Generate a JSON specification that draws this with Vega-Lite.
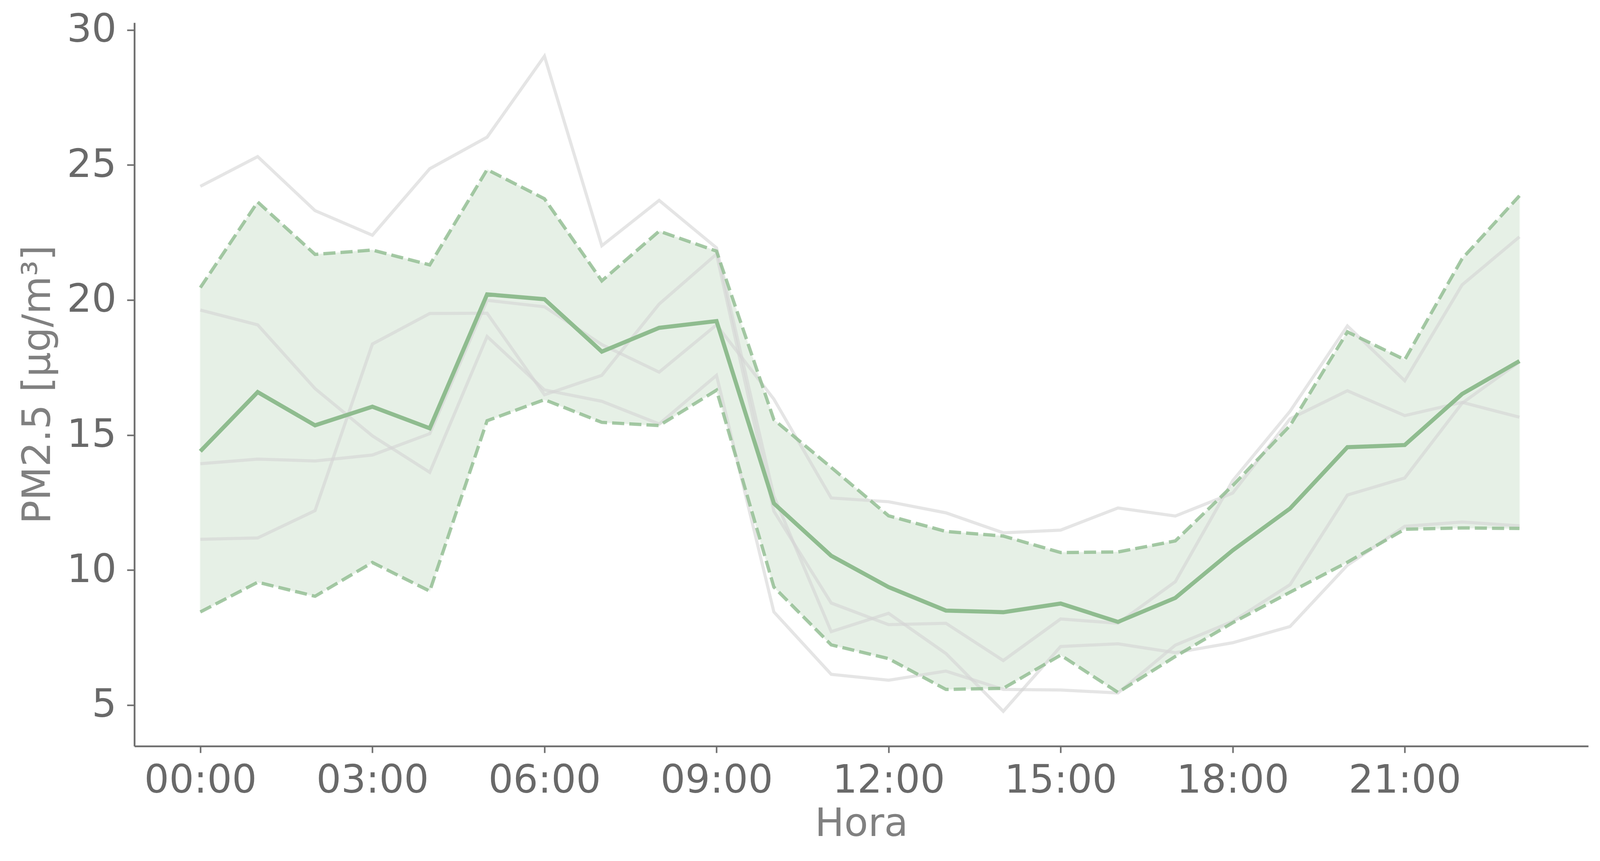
{
  "$schema": "https://vega.github.io/schema/vega-lite/v6.json",
  "autosize": {"type": "none"},
  "padding": {"left": 344, "top": 58, "right": 37, "bottom": 294},
  "width": 3722,
  "height": 1852,
  "background": "white",
  "datasets": {
    "banda": [
      {"hora": 0, "media": 14.40, "sup": 20.46, "inf": 8.45},
      {"hora": 1, "media": 16.59, "sup": 23.63, "inf": 9.55},
      {"hora": 2, "media": 15.36, "sup": 21.69, "inf": 9.03},
      {"hora": 3, "media": 16.05, "sup": 21.85, "inf": 10.28},
      {"hora": 4, "media": 15.25, "sup": 21.30, "inf": 9.22},
      {"hora": 5, "media": 20.21, "sup": 24.83, "inf": 15.53},
      {"hora": 6, "media": 20.03, "sup": 23.75, "inf": 16.31},
      {"hora": 7, "media": 18.09, "sup": 20.71, "inf": 15.47},
      {"hora": 8, "media": 18.97, "sup": 22.55, "inf": 15.35},
      {"hora": 9, "media": 19.22, "sup": 21.81, "inf": 16.66},
      {"hora": 10, "media": 12.47, "sup": 15.57, "inf": 9.37},
      {"hora": 11, "media": 10.53, "sup": 13.80, "inf": 7.23},
      {"hora": 12, "media": 9.37, "sup": 12.01, "inf": 6.72},
      {"hora": 13, "media": 8.50, "sup": 11.43, "inf": 5.58},
      {"hora": 14, "media": 8.44, "sup": 11.26, "inf": 5.62},
      {"hora": 15, "media": 8.76, "sup": 10.65, "inf": 6.85},
      {"hora": 16, "media": 8.08, "sup": 10.67, "inf": 5.47},
      {"hora": 17, "media": 8.97, "sup": 11.08, "inf": 6.80},
      {"hora": 18, "media": 10.73, "sup": 13.13, "inf": 8.05},
      {"hora": 19, "media": 12.28, "sup": 15.35, "inf": 9.18},
      {"hora": 20, "media": 14.55, "sup": 18.82, "inf": 10.29},
      {"hora": 21, "media": 14.63, "sup": 17.79, "inf": 11.51},
      {"hora": 22, "media": 16.52, "sup": 21.53, "inf": 11.56},
      {"hora": 23, "media": 17.74, "sup": 23.86, "inf": 11.54}
    ],
    "series": [
      {"serie": "A", "hora": 0, "pm": 24.21}, {"serie": "A", "hora": 1, "pm": 25.31},
      {"serie": "A", "hora": 2, "pm": 23.31}, {"serie": "A", "hora": 3, "pm": 22.40},
      {"serie": "A", "hora": 4, "pm": 24.86}, {"serie": "A", "hora": 5, "pm": 26.03},
      {"serie": "A", "hora": 6, "pm": 29.03}, {"serie": "A", "hora": 7, "pm": 22.01},
      {"serie": "A", "hora": 8, "pm": 23.69}, {"serie": "A", "hora": 9, "pm": 21.93},
      {"serie": "A", "hora": 10, "pm": 12.74}, {"serie": "A", "hora": 11, "pm": 7.72},
      {"serie": "A", "hora": 12, "pm": 8.40}, {"serie": "A", "hora": 13, "pm": 6.91},
      {"serie": "A", "hora": 14, "pm": 4.77}, {"serie": "A", "hora": 15, "pm": 7.17},
      {"serie": "A", "hora": 16, "pm": 7.27}, {"serie": "A", "hora": 17, "pm": 6.94},
      {"serie": "A", "hora": 18, "pm": 7.31}, {"serie": "A", "hora": 19, "pm": 7.91},
      {"serie": "A", "hora": 20, "pm": 10.18}, {"serie": "A", "hora": 21, "pm": 11.62},
      {"serie": "A", "hora": 22, "pm": 11.78}, {"serie": "A", "hora": 23, "pm": 11.64},
      {"serie": "B", "hora": 0, "pm": 19.63}, {"serie": "B", "hora": 1, "pm": 19.08},
      {"serie": "B", "hora": 2, "pm": 16.72}, {"serie": "B", "hora": 3, "pm": 14.97},
      {"serie": "B", "hora": 4, "pm": 13.62}, {"serie": "B", "hora": 5, "pm": 18.65},
      {"serie": "B", "hora": 6, "pm": 16.67}, {"serie": "B", "hora": 7, "pm": 16.25},
      {"serie": "B", "hora": 8, "pm": 15.41}, {"serie": "B", "hora": 9, "pm": 17.21},
      {"serie": "B", "hora": 10, "pm": 8.45}, {"serie": "B", "hora": 11, "pm": 6.14},
      {"serie": "B", "hora": 12, "pm": 5.92}, {"serie": "B", "hora": 13, "pm": 6.26},
      {"serie": "B", "hora": 14, "pm": 5.58}, {"serie": "B", "hora": 15, "pm": 5.56},
      {"serie": "B", "hora": 16, "pm": 5.45}, {"serie": "B", "hora": 17, "pm": 7.22},
      {"serie": "B", "hora": 18, "pm": 8.10}, {"serie": "B", "hora": 19, "pm": 9.46},
      {"serie": "B", "hora": 20, "pm": 12.78}, {"serie": "B", "hora": 21, "pm": 13.41},
      {"serie": "B", "hora": 22, "pm": 16.18}, {"serie": "B", "hora": 23, "pm": 17.71},
      {"serie": "C", "hora": 0, "pm": 11.14}, {"serie": "C", "hora": 1, "pm": 11.19},
      {"serie": "C", "hora": 2, "pm": 12.20}, {"serie": "C", "hora": 3, "pm": 18.37},
      {"serie": "C", "hora": 4, "pm": 19.50}, {"serie": "C", "hora": 5, "pm": 19.51},
      {"serie": "C", "hora": 6, "pm": 16.49}, {"serie": "C", "hora": 7, "pm": 17.21},
      {"serie": "C", "hora": 8, "pm": 19.85}, {"serie": "C", "hora": 9, "pm": 21.70},
      {"serie": "C", "hora": 10, "pm": 12.18}, {"serie": "C", "hora": 11, "pm": 8.78},
      {"serie": "C", "hora": 12, "pm": 7.98}, {"serie": "C", "hora": 13, "pm": 8.03},
      {"serie": "C", "hora": 14, "pm": 6.65}, {"serie": "C", "hora": 15, "pm": 8.19},
      {"serie": "C", "hora": 16, "pm": 8.03}, {"serie": "C", "hora": 17, "pm": 9.57},
      {"serie": "C", "hora": 18, "pm": 13.31}, {"serie": "C", "hora": 19, "pm": 15.88},
      {"serie": "C", "hora": 20, "pm": 19.04}, {"serie": "C", "hora": 21, "pm": 17.01},
      {"serie": "C", "hora": 22, "pm": 20.56}, {"serie": "C", "hora": 23, "pm": 22.34},
      {"serie": "D", "hora": 0, "pm": 13.94}, {"serie": "D", "hora": 1, "pm": 14.11},
      {"serie": "D", "hora": 2, "pm": 14.04}, {"serie": "D", "hora": 3, "pm": 14.26},
      {"serie": "D", "hora": 4, "pm": 15.05}, {"serie": "D", "hora": 5, "pm": 19.99},
      {"serie": "D", "hora": 6, "pm": 19.75}, {"serie": "D", "hora": 7, "pm": 18.35},
      {"serie": "D", "hora": 8, "pm": 17.33}, {"serie": "D", "hora": 9, "pm": 19.08},
      {"serie": "D", "hora": 10, "pm": 16.33}, {"serie": "D", "hora": 11, "pm": 12.67},
      {"serie": "D", "hora": 12, "pm": 12.53}, {"serie": "D", "hora": 13, "pm": 12.12},
      {"serie": "D", "hora": 14, "pm": 11.38}, {"serie": "D", "hora": 15, "pm": 11.48},
      {"serie": "D", "hora": 16, "pm": 12.30}, {"serie": "D", "hora": 17, "pm": 12.00},
      {"serie": "D", "hora": 18, "pm": 12.85}, {"serie": "D", "hora": 19, "pm": 15.60},
      {"serie": "D", "hora": 20, "pm": 16.64}, {"serie": "D", "hora": 21, "pm": 15.72},
      {"serie": "D", "hora": 22, "pm": 16.21}, {"serie": "D", "hora": 23, "pm": 15.66}
    ]
  },
  "encoding": {
    "x": {
      "field": "hora",
      "type": "quantitative",
      "title": "Hora",
      "scale": {"domain": [-1.15, 24.2], "nice": false, "zero": false},
      "axis": {
        "values": [0, 3, 6, 9, 12, 15, 18, 21],
        "labelExpr": "(datum.value < 10 ? '0' : '') + datum.value + ':00'",
        "grid": false,
        "tickSize": 17,
        "labelPadding": 22,
        "titleY": 199,
        "titleBaseline": "middle"
      }
    }
  },
  "layer": [
    {
      "data": {"name": "banda"},
      "mark": {"type": "area", "color": "darkseagreen", "opacity": 0.22, "stroke": "darkseagreen", "strokeWidth": 4, "strokeOpacity": 0.25},
      "encoding": {
        "y": {
          "field": "sup",
          "type": "quantitative",
          "title": "PM2.5 [μg/m³]",
          "scale": {"domain": [3.48, 30.27], "nice": false, "zero": false},
          "axis": {
            "values": [5, 10, 15, 20, 25, 30],
            "format": "d",
            "grid": false,
            "tickSize": 19,
            "labelPadding": 27,
            "titleX": -247,
            "titleY": 926,
            "titleAlign": "center",
            "titleBaseline": "middle",
            "titleAngle": -90
          }
        },
        "y2": {"field": "inf"}
      }
    },
    {
      "data": {"name": "series"},
      "mark": {"type": "line", "color": "#d3d3d3", "opacity": 0.6, "strokeWidth": 8},
      "encoding": {
        "y": {"field": "pm", "type": "quantitative"},
        "detail": {"field": "serie", "type": "nominal"}
      }
    },
    {
      "data": {"name": "banda"},
      "mark": {"type": "line", "color": "darkseagreen", "opacity": 0.8, "strokeWidth": 8.5, "strokeDash": [31, 13]},
      "encoding": {"y": {"field": "sup", "type": "quantitative"}}
    },
    {
      "data": {"name": "banda"},
      "mark": {"type": "line", "color": "darkseagreen", "opacity": 0.8, "strokeWidth": 8.5, "strokeDash": [31, 13]},
      "encoding": {"y": {"field": "inf", "type": "quantitative"}}
    },
    {
      "data": {"name": "banda"},
      "mark": {"type": "line", "color": "darkseagreen", "strokeWidth": 10.5},
      "encoding": {"y": {"field": "media", "type": "quantitative"}}
    }
  ],
  "config": {
    "view": {"stroke": null},
    "font": "DejaVu Sans",
    "axis": {
      "domainColor": "#6e6e6e",
      "domainWidth": 4.5,
      "tickColor": "#6e6e6e",
      "tickWidth": 4,
      "labelFont": "DejaVu Sans",
      "labelFontSize": 100,
      "labelLimit": 2000,
      "labelColor": "#696969",
      "titleFont": "DejaVu Sans",
      "titleFontSize": 100,
      "titleFontWeight": "normal",
      "titleColor": "#808080",
      "titleLimit": 4000
    }
  }
}
